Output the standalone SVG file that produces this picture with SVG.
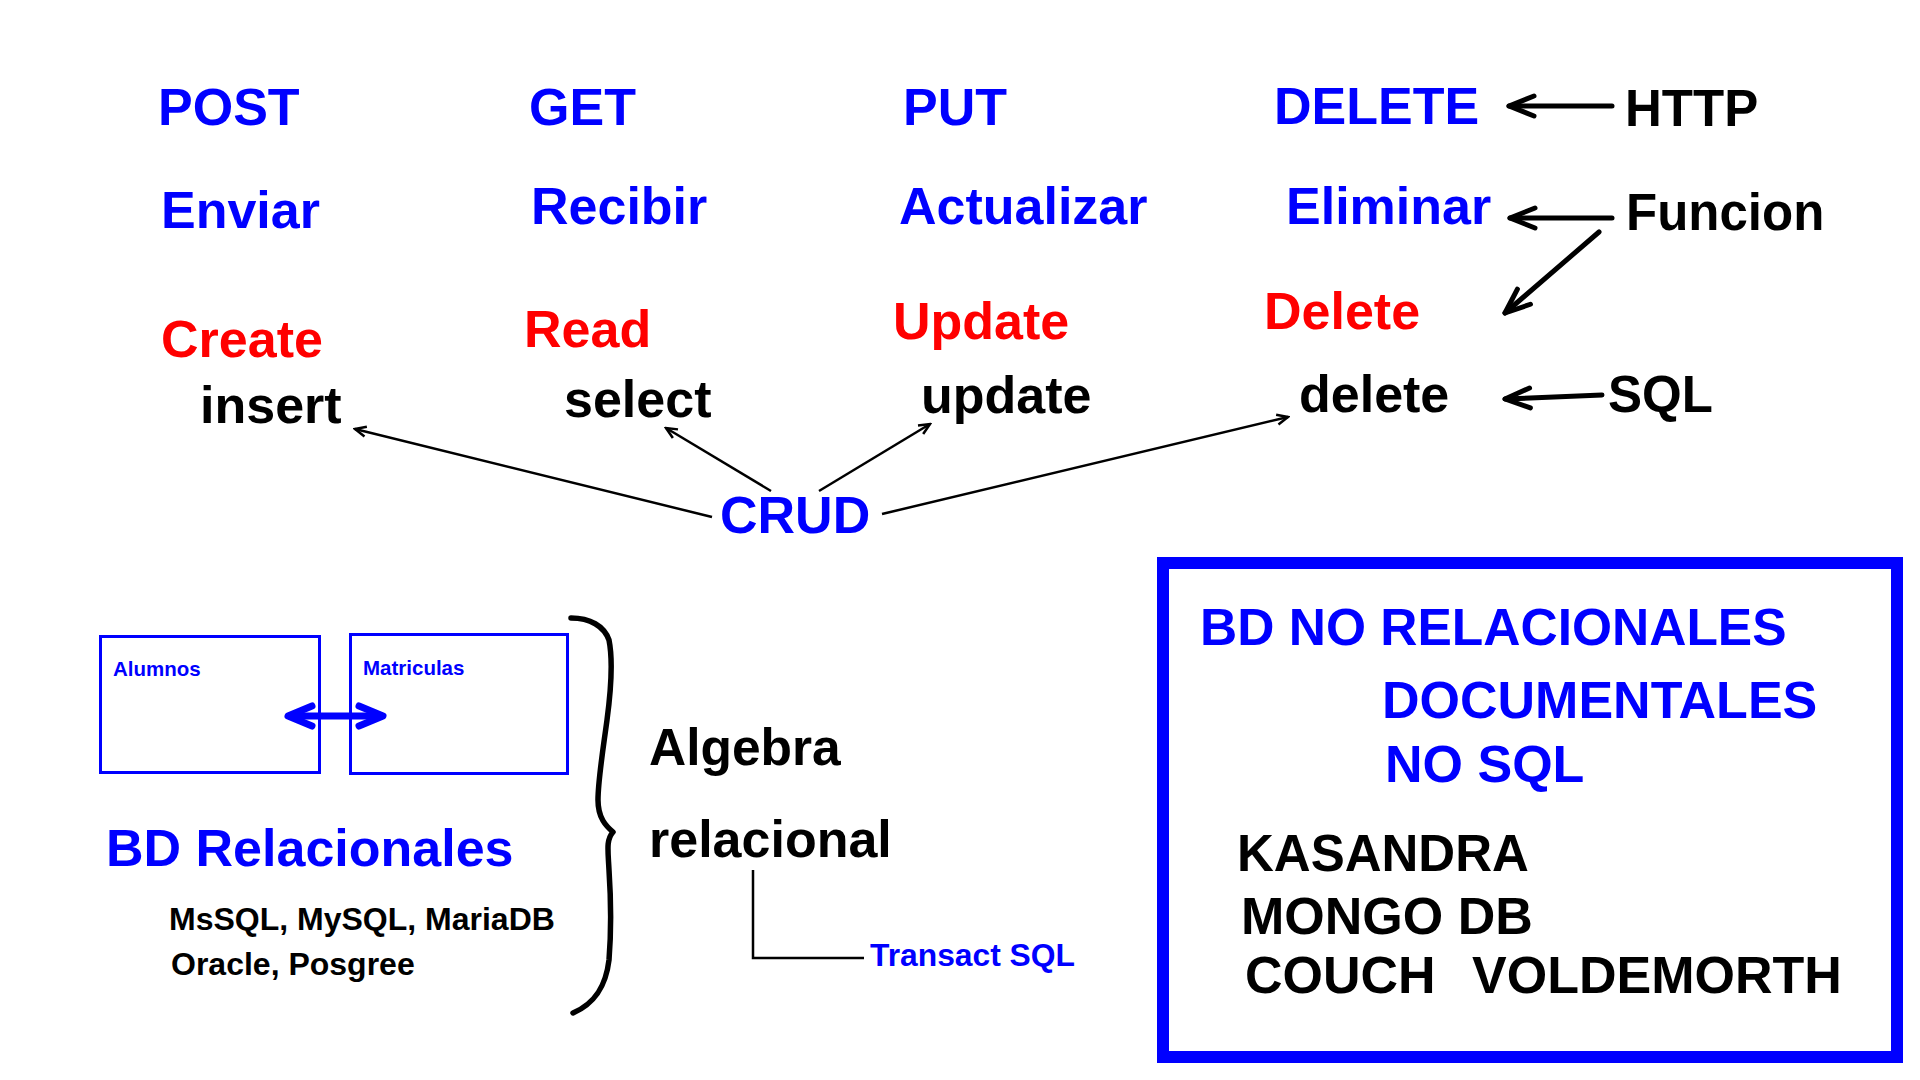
<svg xmlns="http://www.w3.org/2000/svg" width="1920" height="1080" viewBox="0 0 1920 1080">
<style>
text{font-family:"Liberation Sans",Arial,Helvetica,sans-serif;font-weight:bold;}
.b{fill:#0000ff;}
.r{fill:#ff0000;}
.k{fill:#000000;}
.f52{font-size:52px;}
.f51{font-size:51px;}
.f50{font-size:50px;}
.f32{font-size:32px;}
.f21{font-size:20.5px;}
.thin{stroke:#000;stroke-width:2.5;fill:none;marker-end:url(#ah-thin);}
.thick{stroke:#000;stroke-width:5;fill:none;stroke-linecap:round;marker-end:url(#ah-thick);}
.table{fill:none;stroke:#0000ff;stroke-width:3;}
</style>
<defs>
<marker id="ah-thin" markerUnits="userSpaceOnUse" viewBox="-14 -8 16 16" refX="0" refY="0" markerWidth="16" markerHeight="16" orient="auto-start-reverse">
<path d="M-11,-5 L0,0 L-11,5" fill="none" stroke="#000" stroke-width="2.5" stroke-linejoin="miter"/>
</marker>
<marker id="ah-thick" markerUnits="userSpaceOnUse" viewBox="-32 -14 36 28" refX="0" refY="0" markerWidth="36" markerHeight="28" orient="auto-start-reverse">
<path d="M-25,-10 L0,0 L-25,10" fill="none" stroke="#000" stroke-width="5" stroke-linecap="round" stroke-linejoin="round"/>
</marker>
<marker id="ah-blue" markerUnits="userSpaceOnUse" viewBox="-34 -16 40 32" refX="0" refY="0" markerWidth="40" markerHeight="32" orient="auto-start-reverse">
<path d="M-24,-10 L0,0 L-24,10" fill="none" stroke="#0000ff" stroke-width="7" stroke-linecap="round" stroke-linejoin="round"/>
</marker>
</defs>
<rect width="1920" height="1080" fill="#ffffff"/>

<g id="http-row">
<text id="post" class="b f52" x="158" y="125">POST</text>
<text id="get" class="b f52" x="529" y="125">GET</text>
<text id="put" class="b f52" x="903" y="125">PUT</text>
<text id="delete-http" class="b f52" x="1274" y="124">DELETE</text>
<text id="http" class="k f51" x="1625" y="126">HTTP</text>
</g>
<g id="funcion-row">
<text id="enviar" class="b f52" x="161" y="228">Enviar</text>
<text id="recibir" class="b f52" x="531" y="224">Recibir</text>
<text id="actualizar" class="b f52" x="899" y="224">Actualizar</text>
<text id="eliminar" class="b f52" x="1286" y="224">Eliminar</text>
<text id="funcion" class="k f51" x="1626" y="230">Funcion</text>
</g>
<g id="crud-row">
<text id="create" class="r f52" x="161" y="357">Create</text>
<text id="read" class="r f52" x="524" y="347">Read</text>
<text id="update-crud" class="r f52" x="893" y="339">Update</text>
<text id="delete-crud" class="r f52" x="1264" y="329">Delete</text>
</g>
<g id="sql-row">
<text id="insert" class="k f52" x="200" y="423">insert</text>
<text id="select" class="k f52" x="564" y="417">select</text>
<text id="update-sql" class="k f52" x="921" y="413">update</text>
<text id="delete-sql" class="k f52" x="1299" y="412">delete</text>
<text id="sql" class="k f51" x="1608" y="412">SQL</text>
</g>
<g id="crud">
<text class="b f52" x="720" y="533">CRUD</text>
</g>

<g id="tables">
<g id="alumnos">
<rect class="table" x="100.5" y="636.5" width="219" height="136"/>
<text class="b f21" x="113" y="676">Alumnos</text>
</g>
<g id="matriculas">
<rect class="table" x="350.5" y="634.5" width="217" height="139"/>
<text class="b f21" x="363" y="675">Matriculas</text>
</g>
</g>
<g id="bd-relacionales">
<text class="b f52" x="106" y="866">BD Relacionales</text>
<text class="k f32" x="169" y="930">MsSQL, MySQL, MariaDB</text>
<text class="k f32" x="171" y="975">Oracle, Posgree</text>
</g>
<g id="brace">
<path d="M571,618 C590,618 604,626 609,640 C613,660 611,690 607,720 C603,750 598,780 598,800 C598,818 606,826 613,832 C606,840 608,850 609,870 C611,900 611,935 609,960 C606,985 596,1003 573,1013" fill="none" stroke="#000" stroke-width="5.5" stroke-linecap="round" stroke-linejoin="round"/>
</g>
<g id="algebra">
<text class="k" style="font-size:51.5px" x="649" y="765">Algebra</text>
<text class="k" style="font-size:52px" x="649" y="857">relacional</text>
</g>
<g id="transact">
<text class="b" style="font-size:31.8px" x="870" y="966">Transact SQL</text>
</g>

<g id="no-relacionales">
<rect x="1163" y="563" width="734" height="494" fill="none" stroke="#0000ff" stroke-width="12"/>
<text class="b" style="font-size:51.5px" x="1200" y="645">BD NO RELACIONALES</text>
<text class="b f52" x="1382" y="718">DOCUMENTALES</text>
<text class="b f52" x="1385" y="782">NO SQL</text>
<text class="k f51" x="1237" y="871">KASANDRA</text>
<text class="k f52" x="1241" y="934">MONGO DB</text>
<text class="k f52" x="1245" y="993">COUCH</text>
<text class="k f52" x="1472" y="993">VOLDEMORTH</text>
</g>

<g id="connectors">
<line class="thick" x1="1612" y1="106" x2="1509" y2="106"/>
<line class="thick" x1="1612" y1="218" x2="1510" y2="218"/>
<line class="thick" x1="1599" y1="232" x2="1505" y2="313"/>
<line class="thick" x1="1602" y1="395" x2="1505" y2="399"/>
<line class="thin" x1="712" y1="517" x2="355" y2="429"/>
<line class="thin" x1="771" y1="491" x2="666" y2="428"/>
<line class="thin" x1="819" y1="491" x2="930" y2="424"/>
<line class="thin" x1="882" y1="514" x2="1288" y2="417"/>
<line x1="288" y1="716" x2="383" y2="716" stroke="#0000ff" stroke-width="7" marker-start="url(#ah-blue)" marker-end="url(#ah-blue)"/>
<polyline points="753,870 753,958 864,958" fill="none" stroke="#000" stroke-width="2.5"/>
</g>
</svg>
